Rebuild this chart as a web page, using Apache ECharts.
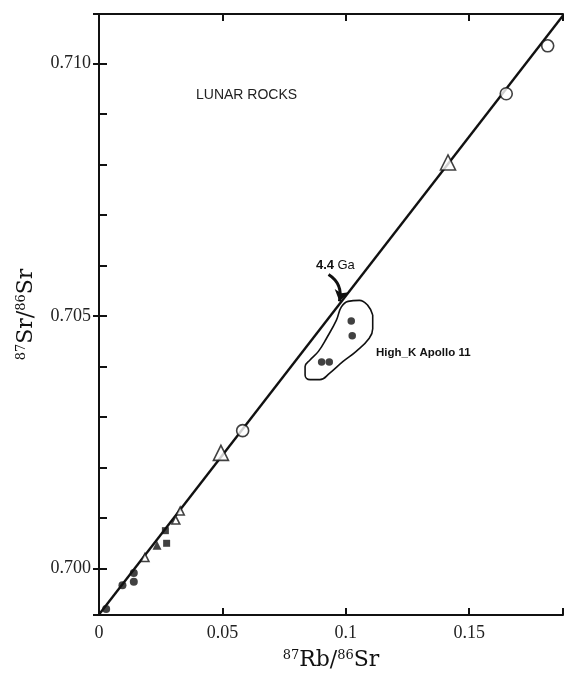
<!DOCTYPE html>
<html>
<head>
<meta charset="utf-8">
<title>Lunar rocks Rb-Sr isochron</title>
<script src="https://cdn.jsdelivr.net/npm/echarts@6/dist/echarts.min.js"></script>
<style>
  html, body { margin: 0; padding: 0; background: #fff; }
  #chart { width: 566px; height: 676px; }
</style>
</head>
<body>
<div id="chart"></div>
<script>
// 87Rb/86Sr vs 87Sr/86Sr for lunar rocks, with a 4.4 Ga reference isochron.

// Reference isochron (4.4 Ga) end points
const isochronRb = [0.0, 0.188];
const isochronSr = [0.69909, 0.71095];

// Filled circles near the origin
const filledCircleRb = [0.0029, 0.0095, 0.0141, 0.0141];
const filledCircleSr = [0.69920, 0.69967, 0.69991, 0.69974];

// Filled triangle and filled squares
const filledTriangleRb = [0.0235];
const filledTriangleSr = [0.70046];
const filledSquareRb = [0.0274, 0.0269];
const filledSquareSr = [0.70050, 0.70075];

// Small open triangles on the lower part of the isochron
const smallTriangleRb = [0.0186, 0.0311, 0.0329];
const smallTriangleSr = [0.70022, 0.70096, 0.70114];

// Large open triangles
const openTriangleRb = [0.0494, 0.1414];
const openTriangleSr = [0.70229, 0.70804];

// Open circles
const openCircleRb = [0.0582, 0.1650, 0.1818];
const openCircleSr = [0.70273, 0.70940, 0.71035];

// High-K Apollo 11 basalts
const apolloRb = [0.1022, 0.1026, 0.0902, 0.0933];
const apolloSr = [0.70490, 0.70461, 0.70409, 0.70409];

// Outline drawn round the Apollo 11 group
const outlineRb = [0.1109, 0.1109, 0.1095, 0.1042, 0.0989, 0.0935, 0.0895, 0.0855, 0.0835, 0.0835,
                   0.0855, 0.0889, 0.0922, 0.0962, 0.0982, 0.1009, 0.1055, 0.1089, 0.1109];
const outlineSr = [0.70502, 0.70475, 0.70456, 0.70430, 0.70410, 0.70387, 0.70374, 0.70374, 0.70383, 0.70400,
                   0.70413, 0.70430, 0.70456, 0.70492, 0.70518, 0.70529, 0.70531, 0.70521, 0.70502];

// Arrow pointing at the isochron ("4.4 Ga")
const arrowRb = [0.0930, 0.0974];
const arrowSr = [0.70582, 0.70529];

// Axis ranges and tick labels
const xRange = [0, 0.188];
const yRange = [0.69908, 0.71098];
const xTickLabels = { '0': '0', '0.05': '0.05', '0.1': '0.1', '0.15': '0.15' };
const yTickLabels = ['0.700', '0.705', '0.710'];

const zip = (a, b) => a.map((v, i) => [v, b[i]]);

const chart = echarts.init(document.getElementById('chart'), null, { renderer: 'canvas' });

const axisLine = { show: true, lineStyle: { color: '#111', width: 2 } };
const inTick = (len) => ({ show: true, inside: true, length: len, lineStyle: { color: '#111', width: 2 } });
const serif = 'Liberation Serif';
const titleSerif = 'DejaVu Serif';

function xLabel(v) {
  const k = String(Math.round(v * 1000) / 1000);
  return xTickLabels[k] !== undefined ? xTickLabels[k] : '';
}
function yLabel(v) {
  const s = (Math.round(v * 1000) / 1000).toFixed(3);
  return Math.abs(v * 200 - Math.round(v * 200)) < 1e-6 && yTickLabels.includes(s) ? s : '';
}

const openStyle = { color: '#fff', borderColor: '#111', borderWidth: 1.6 };
const filledStyle = { color: '#111' };

chart.setOption({
  animation: false,
  backgroundColor: '#fff',
  grid: { left: 99, top: 14, width: 470, height: 604, containLabel: false },
  xAxis: [
    {
      type: 'value', position: 'bottom', min: xRange[0], max: xRange[1], interval: 0.05,
      axisLine, axisTick: inTick(7), splitLine: { show: false },
      axisLabel: { formatter: xLabel, fontFamily: serif, fontSize: 18, color: '#222', margin: 9 },
      name: '{s|87}{b|Rb/}{s|86}{b|Sr}', nameLocation: 'middle', nameGap: 34,
      nameTextStyle: {
        rich: {
          s: { fontFamily: titleSerif, fontSize: 13, color: '#111', verticalAlign: 'top', padding: [0, 0, 8, 0] },
          b: { fontFamily: titleSerif, fontSize: 22, color: '#111' }
        }
      }
    },
    {
      type: 'value', position: 'top', min: xRange[0], max: xRange[1], interval: 0.05,
      axisLine, axisTick: inTick(7), splitLine: { show: false }, axisLabel: { show: false }
    }
  ],
  yAxis: [
    {
      type: 'value', position: 'left', min: yRange[0], max: yRange[1],
      splitNumber: 12, minInterval: 0.001, maxInterval: 0.001,
      axisLine, axisTick: inTick(8), splitLine: { show: false },
      axisLabel: { formatter: yLabel, fontFamily: serif, fontSize: 18, color: '#222', margin: 8 },
      name: '{s|87}{b|Sr/}{s|86}{b|Sr}', nameLocation: 'middle', nameGap: 62, nameRotate: 90,
      nameTextStyle: {
        rich: {
          s: { fontFamily: titleSerif, fontSize: 13, color: '#111', verticalAlign: 'top', padding: [0, 0, 8, 0] },
          b: { fontFamily: titleSerif, fontSize: 22, color: '#111' }
        }
      }
    },
    {
      type: 'value', position: 'right', min: yRange[0], max: yRange[1],
      splitNumber: 3, minInterval: 0.005, maxInterval: 0.005,
      axisLine, axisTick: inTick(6), splitLine: { show: false }, axisLabel: { show: false }
    }
  ],
  series: [
    {
      name: 'isochron', type: 'line', data: zip(isochronRb, isochronSr), symbol: 'none',
      lineStyle: { color: '#111', width: 2.4 }, z: 2, silent: true
    },
    {
      name: 'outline', type: 'line', data: zip(outlineRb, outlineSr), symbol: 'none', smooth: 0.45,
      lineStyle: { color: '#111', width: 1.6 }, z: 2, silent: true
    },
    {
      name: 'arrow', type: 'lines', coordinateSystem: 'cartesian2d',
      data: [{ coords: zip(arrowRb, arrowSr) }],
      symbol: ['none', 'arrow'], symbolSize: [0, 11],
      lineStyle: { color: '#111', width: 3, curveness: 0.35, opacity: 1 }, z: 4, silent: true
    },
    {
      name: 'filled circles', type: 'scatter', data: zip(filledCircleRb, filledCircleSr),
      symbol: 'circle', symbolSize: 8, itemStyle: filledStyle, z: 5
    },
    {
      name: 'filled triangle', type: 'scatter', data: zip(filledTriangleRb, filledTriangleSr),
      symbol: 'triangle', symbolSize: 9, itemStyle: filledStyle, z: 5
    },
    {
      name: 'filled squares', type: 'scatter', data: zip(filledSquareRb, filledSquareSr),
      symbol: 'rect', symbolSize: 7, itemStyle: filledStyle, z: 5
    },
    {
      name: 'small open triangles', type: 'scatter', data: zip(smallTriangleRb, smallTriangleSr),
      symbol: 'triangle', symbolSize: 8, itemStyle: openStyle, z: 5
    },
    {
      name: 'open triangles', type: 'scatter', data: zip(openTriangleRb, openTriangleSr),
      symbol: 'triangle', symbolSize: 15, itemStyle: openStyle, z: 5
    },
    {
      name: 'open circles', type: 'scatter', data: zip(openCircleRb, openCircleSr),
      symbol: 'circle', symbolSize: 12, itemStyle: openStyle, z: 5
    },
    {
      name: 'High-K Apollo 11', type: 'scatter', data: zip(apolloRb, apolloSr),
      symbol: 'circle', symbolSize: 7.5, itemStyle: filledStyle, z: 5
    }
  ],
  graphic: [
    {
      type: 'text', left: 196, top: 88, z: 10,
      style: { text: 'LUNAR ROCKS', font: '14px "Liberation Sans"', fill: '#222' }
    },
    {
      type: 'text', left: 316, top: 259, z: 10,
      style: {
        text: '{b|4.4} {n|Ga}',
        rich: {
          b: { font: 'bold 13px "Liberation Sans"', fill: '#111' },
          n: { font: '13px "Liberation Sans"', fill: '#111' }
        }
      }
    },
    {
      type: 'text', left: 376, top: 347, z: 10,
      style: { text: 'High_K Apollo 11', font: 'bold 11.5px "Liberation Sans"', fill: '#111' }
    }
  ]
});
</script>
</body>
</html>
